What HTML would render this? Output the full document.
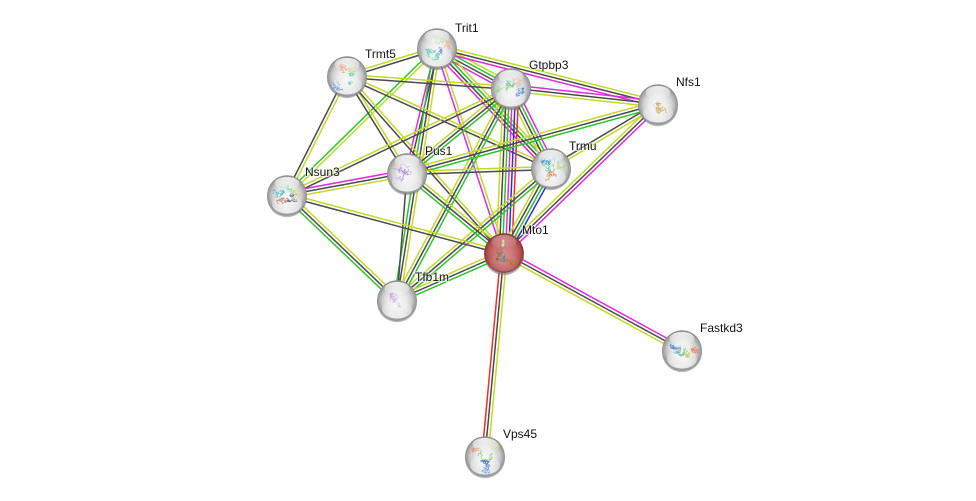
<!DOCTYPE html>
<html><head><meta charset="utf-8"><style>
html,body{margin:0;padding:0;background:#fff;width:976px;height:501px;overflow:hidden}
svg{display:block}
text{font:12px "Liberation Sans",Arial,sans-serif;fill:#111;stroke:#fff;stroke-width:2px;paint-order:stroke;stroke-opacity:.6}
</style></head><body>
<svg id="s" xmlns="http://www.w3.org/2000/svg" width="976" height="501" viewBox="0 0 976 501">
<defs>
<radialGradient id="b" cx="50%" cy="52%" r="52%"><stop offset="0" stop-color="#f8f8f8"/><stop offset=".45" stop-color="#eaeaea"/><stop offset=".7" stop-color="#cfcfcf"/><stop offset=".9" stop-color="#a0a0a0"/><stop offset="1" stop-color="#858585"/></radialGradient>
<radialGradient id="r" cx="50%" cy="52%" r="52%"><stop offset="0" stop-color="#d89090"/><stop offset=".5" stop-color="#c97272"/><stop offset=".75" stop-color="#b85858"/><stop offset=".92" stop-color="#963c3c"/><stop offset="1" stop-color="#7a3030"/></radialGradient>
<linearGradient id="g" x1="0" y1="0" x2="0" y2="1"><stop offset="0" stop-color="#fff" stop-opacity=".85"/><stop offset="1" stop-color="#fff" stop-opacity=".05"/></linearGradient>
<linearGradient id="w" x1="0" y1="0" x2="0" y2="1"><stop offset="0" stop-color="#fff" stop-opacity="0"/><stop offset="1" stop-color="#fff" stop-opacity=".8"/></linearGradient>
</defs>
<g id="e" fill="none" stroke-width="1.5"></g>
<g id="n"></g>
<text x="455" y="32">Trit1</text>
<text x="365" y="58">Trmt5</text>
<text x="529" y="69">Gtpbp3</text>
<text x="676" y="86">Nfs1</text>
<text x="425" y="155">Pus1</text>
<text x="569" y="150">Trmu</text>
<text x="305" y="176">Nsun3</text>
<text x="522" y="234">Mto1</text>
<text x="415" y="281">Tfb1m</text>
<text x="700" y="332">Fastkd3</text>
<text x="503" y="438">Vps45</text>
</svg>
<script>
var N={T:[437,48],R:[347,76],G:[511,88],F:[658,104],P:[407,173],U:[551,168],S:[287,195],M:[504,253],B:[397,300],K:[682,350],V:[485,456]};
var C={y:'#c2d82c',k:'#4a4a4a',g:'#2cc42c',m:'#e02ce0',b:'#2c2cf0',r:'#f02c2c'};
/* colour lists: left-to-right for steep edges, top-to-bottom for shallow edges */
var E=[
['T','R','yk'],['T','G','ygkm'],['T','F','ykm'],['T','P','mk'],['T','S','gy'],['T','U','mkgy'],['T','M','my'],['T','B','gky'],
['R','G','yk'],['R','S','ky'],['R','P','ky'],['R','U','yk'],['R','M','ky'],
['G','F','mky'],['G','U','ykgm'],['G','M','ykgmbr'],['G','P','ykg'],['G','S','yk'],['G','B','ykg'],
['F','U','ky'],['F','M','ykm'],['F','P','ykg'],
['U','M','ykgb'],['U','P','yk'],['U','B','ykg'],
['P','S','mky'],['P','M','ykg'],['P','B','k'],
['S','M','yk'],['S','B','ykg'],
['M','B','ykg'],['M','K','mky'],['M','V','rky']];
var NS='http://www.w3.org/2000/svg',eg=document.getElementById('e'),ng=document.getElementById('n');
function el(t,a,p){var x=document.createElementNS(NS,t);for(var k in a)x.setAttribute(k,a[k]);p.appendChild(x);return x}
E.forEach(function(d){var a=N[d[0]],b=N[d[1]],dx=b[0]-a[0],dy=b[1]-a[1],l=Math.hypot(dx,dy),nx=-dy/l,ny=dx/l,n=d[2].length;
if(Math.abs(dy)>Math.abs(dx)){if(nx<0){nx=-nx;ny=-ny}}else{if(ny<0){nx=-nx;ny=-ny}}
for(var i=0;i<n;i++){var o=(i-(n-1)/2)*3.1;
el('line',{x1:a[0]+nx*o,y1:a[1]+ny*o,x2:b[0]+nx*o,y2:b[1]+ny*o,stroke:C[d[2][i]]},eg)}});
var seed=11;function rnd(){seed=(seed*16807)%2147483647;return seed/2147483647}
/* colour, dx, dy, half-width, half-height */
var P={
T:[['#a8dc90',2,-8,7,5],['#e8b080',8,-3,7,4],['#60c8b0',-6,5,6,4],['#6a8ed8',1,3,4,4],['#70d8c8',-2,9,4,3]],
R:[['#e08a60',-3,-5,5,7],['#c8d878',3,-8,6,4],['#50d0b0',7,3,5,6],['#7098e0',-9,10,5,4]],
G:[['#90d880',-9,0,6,6],['#f0a890',6,-6,5,7],['#4a88d0',8,6,5,6],['#60c890',-2,-2,5,5]],
F:[['#d8c080',0,0,9,10],['#c8a860',3,5,5,6]],
P:[['#b890d8',-2,0,12,9],['#a888d0',-1,1,7,7]],
U:[['#90c8f0',-3,-9,7,3],['#3890c8',-6,-4,6,4],['#60d8a8',-1,1,8,5],['#d87840',0,6,6,6],['#b0d870',10,1,4,7]],
S:[['#70e0a0',-1,-6,8,5],['#40b8d0',-8,1,6,6],['#c07a58',-4,7,6,4],['#4858c8',5,3,5,4],['#d8dc50',9,0,4,5]],
M:[['#8a6040',-5,-1,3,8],['#c07030',5,9,7,3],['#509080',-2,3,3,6],['#d8e0a0',-1,-10,1,3]],
B:[['#c0a0e0',0,0,7,7],['#d8c0e8',-3,-3,4,4]],
K:[['#4880d0',-8,-4,8,3],['#70c890',2,2,8,4],['#e88060',11,0,5,3],['#70b0c8',-6,0,5,3],['#c8c850',7,4,3,3]],
V:[['#d0dc90',8,-10,6,3],['#e89878',-7,-5,6,3],['#60d060',0,3,7,7],['#4868c0',0,9,4,5],['#70a0e0',1,13,4,4]]};
Object.keys(N).forEach(function(k){var c=N[k],x=c[0],y=c[1],red=k=='M';
el('circle',{cx:x,cy:y+2.2,r:20,fill:'#666',opacity:.45},ng);
el('circle',{cx:x,cy:y+1,r:20,fill:'#8a8a8a',opacity:.7},ng);
el('circle',{cx:x,cy:y,r:19.8,fill:red?'url(#r)':'url(#b)'},ng);
el('ellipse',{cx:x,cy:y+9,rx:15,ry:9.5,fill:'url(#w)',opacity:red?.2:1},ng);
P[k].forEach(function(q){var cx=x+q[1],cy=y+q[2];
for(var s=0;s<2;s++){var pts=[],px=cx,py=cy;
for(var j=0;j<32;j++){px+=(rnd()-.5)*5;py+=(rnd()-.5)*4.4;
px=Math.max(cx-q[3],Math.min(cx+q[3],px));py=Math.max(cy-q[4],Math.min(cy+q[4],py));pts.push(px.toFixed(1)+','+py.toFixed(1))}
el('polyline',{points:pts.join(' '),fill:'none',stroke:q[0],'stroke-width':.5,opacity:.8},ng)}});
el('ellipse',{cx:x,cy:y-11.5,rx:12.5,ry:6.5,fill:'url(#g)',opacity:red?.45:1},ng);
});
</script>
</body></html>
